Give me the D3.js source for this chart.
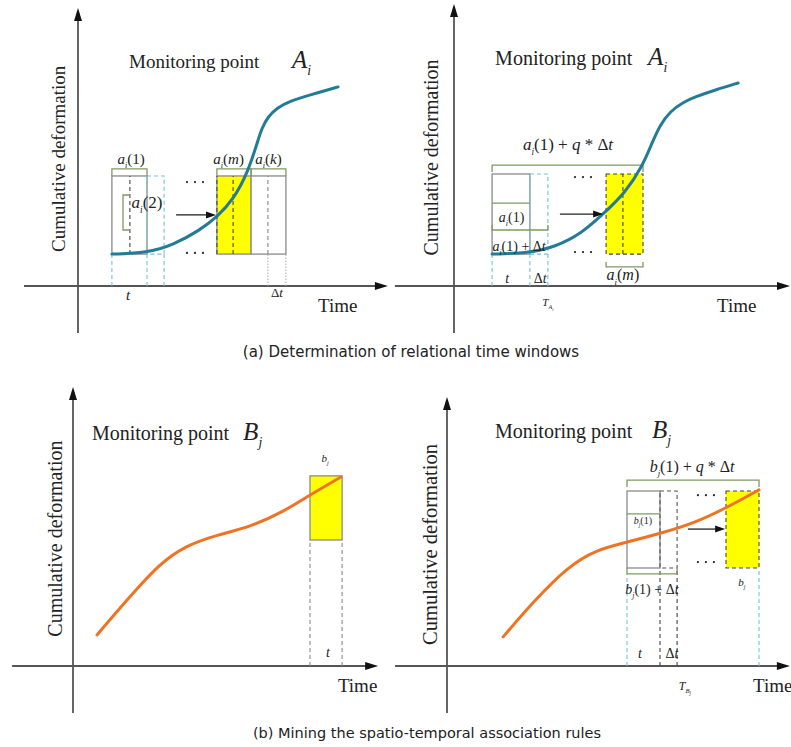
<!DOCTYPE html>
<html>
<head>
<meta charset="utf-8">
<script src="https://cdn.jsdelivr.net/npm/d3@7"></script>
<style>
  body { margin: 0; background: #fff; }
  text { fill: #222; }
</style>
</head>
<body>
<svg id="chart" width="791" height="747" font-family="'Liberation Serif', 'Times New Roman', 'DejaVu Serif', serif"></svg>
<script>
// schematic units: time 0..100 (x), cumulative deformation 0..100 (y)
// curves
const curveA1 = [[11.3,11.4],[23,11.8],[31.7,14.6],[40.7,20],[46.3,24.6],[51.7,30.7],[56.7,40.7],
  [60,52.1],[61.3,56.4],[63.3,60.4],[66.3,63.6],[70.7,66.1],[77.3,68.2],[86.7,71.1]];
const curveA2 = [[12.7,11.4],[24.7,11.8],[33.7,13.9],[42.7,18.9],[49.7,25.7],[57,33.2],[62.7,42.5],
  [66,51.1],[68.7,57.5],[72,62.3],[76.3,65.6],[80.3,67.5],[87,70],[94.7,72.5]];
const curveB1 = [[8,11.1],[18,23.6],[29,36.8],[38,43.2],[48,46.8],[59,49.6],[70,55],[79,61.1],[89.3,67.5]];
const curveB2 = [[18.7,10.4],[29.3,23.6],[40.3,35.4],[49.3,41.4],[60.3,44.3],[71.7,47.5],[82.7,51.1],
  [93.7,56.8],[104,62.9]];

// windows [t0, t1, d0, d1, kind]
const winA1 = [[11.3,23,11.4,39.3,"plain"],[23,28.7,11.4,39.3,"cyan"],[46.3,57.7,11.4,39.3,"yellow"],[57.7,69.3,11.4,39.3,"plain"]];
const winA2 = [[12.7,25.3,11.4,40,"plain"],[25.3,31.3,11.4,40,"cyan"],[50.7,63,11.4,40,"yellowDash"]];
const winB1 = [[79,89.7,45,67.9,"yellow"]];
const winB2 = [[60,71,35,62.5,"plain"],[71,76.7,35,62.5,"dash"],[93,104,35,62.5,"yellowDash"]];

// vertical lines [t, d0, d1, kind]
const vlA1 = [[17.3,11.4,39.3,"dash"],[46.3,11.4,39.3,"dash"],[51.7,11.4,39.3,"dash"],[63.3,11.4,39.3,"grayDash"],
  [11.3,0,11.4,"cyan"],[23,0,11.4,"cyan"],[28.7,0,11.4,"cyan"],[63.3,0,11.4,"dot"],[69.3,0,11.4,"dot"]];
const vlA2 = [[56.3,11.4,40,"dash"],[12.7,0,11.4,"cyan"],[25.3,0,11.4,"cyan"],[31.3,0,11.4,"cyan"]];
const vlB1 = [[79,0,45,"grayDash"],[89.7,0,45,"grayDash"]];
const vlB2 = [[60,0,32.9,"cyan"],[71,0,35,"dash"],[76.7,0,35,"dash"],[104,0,35,"cyan"]];

// brackets [t0, t1, d, tickTo]
const brA1 = [[11.3,23,41.8,39.3],[46.3,57.7,41.8,39.3],[57.7,69.3,41.8,39.3]];
const brA2 = [[12.7,63,43.2,40.7],[50.7,63,6.8,8.6],[12.7,31.3,20,21.8]];
const brB2 = [[60,104,66.4,63.9],[60,76.7,32.9,35]];
// plain green rules [t0, t1, d]
const ruleA2 = [[12.7,25.3,29.6]];
const ruleB2 = [[60,71,54.3]];
// side bracket for a_i(2): [t, d0, d1, tickTo]
const sideA1 = [[15,20,32.5,17.3]];

// arrows [t0, t1, d]
const arrA1 = [[32.7,46,25.4]];
const arrA2 = [[35.3,49.7,25.7]];
const arrB2 = [[80.3,92.7,48.9]];
// ellipsis marks [t, d]
const dotsA1 = [[39,37.1],[39,11.8]];
const dotsA2 = [[43,38.9],[43,12.1]];
const dotsB2 = [[86.3,61],[86.3,37.1]];

// labels [t, d, markup, size]  ({x} italic, _{x} subscript, __{x} second level)
const labA1 = [[17.7,43.6,"{a}_{i}(1)",15],[50.2,43.6,"{a}_{i}({m})",15],[63.5,43.6,"{a}_{i}({k})",15],
  [23,27.9,"{a}_{i}(2)",17],[16.7,-5,"{t}",15],[66.3,-3.9,"Δ{t}",13]];
const labA2 = [[38,48.6,"{a}_{i}(1) + {q} * Δ{t}",17],[19.2,22.9,"{a}_{i}(1)",14],[21.7,12.5,"{a}_{i}(1) + Δ{t}",14],
  [17.7,1.1,"{t}",14],[28.7,1.1,"Δ{t}",14],[56.3,2.1,"{a}_{i}({m})",16],[31.3,-7.1,"{T}_{A}__{i}",11]];
const labB1 = [[84,72.9,"{b}_{j}",11],[85,3.2,"{t}",14]];
const labB2 = [[81.7,69.3,"{b}_{j}(1) + {q} * Δ{t}",16],[65.3,50.7,"{b}_{j}(1)",10],[68.3,25.7,"{b}_{j}(1) + Δ{t}",14],
  [98.3,28.6,"{b}_{j}",11],[64.3,2.9,"{t}",14],[75,2.9,"Δ{t}",14],[79.3,-8.6,"{T}_{B}__{j}",12]];

const titles = ["Monitoring point", "Monitoring point", "Monitoring point", "Monitoring point"];
const pointNames = [["A","i"],["A","i"],["B","j"],["B","j"]];
const yTitle = "Cumulative deformation";
const xTitle = "Time";
const captions = ["(a) Determination of relational time windows", "(b) Mining the spatio-temporal association rules"];

const svg = d3.select("#chart");

const GREEN = "#7f9a62", GRAY = "#8a8a8a", CYAN = "#6fc3d6";

function rich(g, str, x, y, size, anchor) {
  const t = g.append("text").attr("x", x).attr("y", y).attr("font-size", size)
    .attr("text-anchor", anchor || "middle");
  const re = /__\{([^}]*)\}|_\{([^}]*)\}|\{([^}]*)\}|([^{_]+)/g;
  let m, cur = 0;
  while ((m = re.exec(str))) {
    let txt, lvl = 0, it = false;
    if (m[1] != null) { txt = m[1]; lvl = 2; it = true; }
    else if (m[2] != null) { txt = m[2]; lvl = 1; it = true; }
    else if (m[3] != null) { txt = m[3]; it = true; }
    else txt = m[4];
    const off = [0, 0.28, 0.45][lvl] * size;
    const fs = [1, 0.55, 0.42][lvl] * size;
    t.append("tspan").attr("dy", off - cur).attr("font-size", fs)
      .attr("font-style", it ? "italic" : null).text(txt);
    cur = off;
  }
  return t;
}

function arrowHead(g, x, y, dir, len, w) {
  const pts = dir === "up"
    ? [[x, y], [x - w / 2, y + len], [x + w / 2, y + len]]
    : [[x, y], [x - len, y - w / 2], [x - len, y + w / 2]];
  g.append("path").attr("d", d3.line()(pts) + "Z").attr("fill", "#111");
}

const panels = [
  { o: [78, 286], xr: [-18, 103.3], yr: [-16.8, 99.3], curve: curveA1, color: "#237b96",
    win: winA1, vl: vlA1, br: brA1, rule: [], side: sideA1, arr: arrA1, dots: dotsA1, lab: labA1,
    title: [17, 77.9, 71.3, 19], ylab: [-4.3, 45.4, 19], time: [80, -9.3] },
  { o: [454, 286], xr: [-19.7, 112], yr: [-16.8, 100.7], curve: curveA2, color: "#237b96",
    win: winA2, vl: vlA2, br: brA2, rule: ruleA2, side: [], arr: arrA2, dots: dotsA2, lab: labA2,
    title: [13.7, 78.9, 64.7, 20], ylab: [-5.3, 45.9, 20], time: [87.7, -9.3] },
  { o: [73, 666], xr: [-20.3, 101.7], yr: [-16.8, 99.6], curve: curveB1, color: "#ee7424",
    win: winB1, vl: vlB1, br: [], rule: [], side: [], arr: [], dots: [], lab: labB1,
    title: [6.3, 80.7, 56.7, 20], ylab: [-3.7, 45.5, 20], time: [88.3, -9.3] },
  { o: [447, 666], xr: [-17.3, 114.3], yr: [-16.8, 96.1], curve: curveB2, color: "#ee7424",
    win: winB2, vl: vlB2, br: brB2, rule: ruleB2, side: [], arr: arrB2, dots: dotsB2, lab: labB2,
    title: [16, 81.4, 68.3, 20], ylab: [-3.3, 43.4, 20.5], time: [102, -9.3] }
];

panels.forEach((p, pi) => {
  const x = d3.scaleLinear().domain([0, 100]).range([p.o[0], p.o[0] + 300]);
  const y = d3.scaleLinear().domain([0, 100]).range([p.o[1], p.o[1] - 280]);
  const g = svg.append("g");

  // axes
  g.append("line").attr("x1", x(p.xr[0])).attr("x2", x(p.xr[1]) - 8)
    .attr("y1", y(0)).attr("y2", y(0)).attr("stroke", "#555").attr("stroke-width", 1.8);
  g.append("line").attr("x1", x(0)).attr("x2", x(0))
    .attr("y1", y(p.yr[0])).attr("y2", y(p.yr[1]) + 8).attr("stroke", "#555").attr("stroke-width", 1.8);
  arrowHead(g, x(p.xr[1]), y(0), "right", 13, 8);
  arrowHead(g, x(0), y(p.yr[1]), "up", 13, 8);

  // windows
  p.win.forEach(([t0, t1, d0, d1, kind]) => {
    const r = g.append("rect").attr("x", x(t0)).attr("y", y(d1))
      .attr("width", x(t1) - x(t0)).attr("height", y(d0) - y(d1));
    if (kind === "plain") r.attr("fill", "#fff").attr("stroke", GRAY).attr("stroke-width", 1.3);
    if (kind === "cyan") r.attr("fill", "none").attr("stroke", CYAN).attr("stroke-width", 1.1).attr("stroke-dasharray", "4,3");
    if (kind === "dash") r.attr("fill", "none").attr("stroke", "#555").attr("stroke-width", 1.1).attr("stroke-dasharray", "4,3");
    if (kind === "yellow") r.attr("fill", "#ffff00").attr("stroke", GRAY).attr("stroke-width", 1.3);
    if (kind === "yellowDash") r.attr("fill", "#ffff00").attr("stroke", "#444").attr("stroke-width", 1.1).attr("stroke-dasharray", "4,3");
  });

  // vertical guide lines
  p.vl.forEach(([t, d0, d1, kind]) => {
    const l = g.append("line").attr("x1", x(t)).attr("x2", x(t)).attr("y1", y(d0)).attr("y2", y(d1));
    if (kind === "dash") l.attr("stroke", "#444").attr("stroke-width", 1.1).attr("stroke-dasharray", "4,3");
    if (kind === "grayDash") l.attr("stroke", "#888").attr("stroke-width", 1.1).attr("stroke-dasharray", "4,3");
    if (kind === "cyan") l.attr("stroke", CYAN).attr("stroke-width", 1.1).attr("stroke-dasharray", "4,3");
    if (kind === "dot") l.attr("stroke", "#aaa").attr("stroke-width", 1).attr("stroke-dasharray", "1.5,1.5");
  });

  // green brackets
  p.br.forEach(([t0, t1, d, dt]) => {
    g.append("path").attr("fill", "none").attr("stroke", GREEN).attr("stroke-width", 1.3)
      .attr("d", d3.line()([[x(t0), y(dt)], [x(t0), y(d)], [x(t1), y(d)], [x(t1), y(dt)]]));
  });
  p.rule.forEach(([t0, t1, d]) => {
    g.append("line").attr("x1", x(t0)).attr("x2", x(t1)).attr("y1", y(d)).attr("y2", y(d))
      .attr("stroke", GREEN).attr("stroke-width", 1.3);
  });
  p.side.forEach(([t, d0, d1, tt]) => {
    g.append("path").attr("fill", "none").attr("stroke", GREEN).attr("stroke-width", 1.3)
      .attr("d", d3.line()([[x(tt), y(d1)], [x(t), y(d1)], [x(t), y(d0)], [x(tt), y(d0)]]));
  });

  // deformation curve
  g.append("path").datum(p.curve).attr("fill", "none").attr("stroke", p.color)
    .attr("stroke-width", 3).attr("stroke-linecap", "round")
    .attr("d", d3.line().x(d => x(d[0])).y(d => y(d[1])).curve(d3.curveBasis));

  // arrows
  p.arr.forEach(([t0, t1, d]) => {
    g.append("line").attr("x1", x(t0)).attr("x2", x(t1) - 8).attr("y1", y(d)).attr("y2", y(d))
      .attr("stroke", "#222").attr("stroke-width", 1.3);
    arrowHead(g, x(t1), y(d), "right", 10, 7);
  });

  // ellipsis
  p.dots.forEach(([t, d]) => {
    [-8, 0, 8].forEach(k => g.append("circle").attr("cx", x(t) + k).attr("cy", y(d)).attr("r", 1.1).attr("fill", "#222"));
  });

  // labels
  p.lab.forEach(([t, d, s, fs]) => rich(g, s, x(t), y(d), fs, "middle"));

  // titles
  g.append("text").attr("x", x(p.title[0])).attr("y", y(p.title[1])).attr("font-size", p.title[3]).text(titles[pi]);
  rich(g, "{" + pointNames[pi][0] + "}_{" + pointNames[pi][1] + "}", x(p.title[2]), y(p.title[1]), 25, "start");
  g.append("text").attr("transform", `translate(${x(p.ylab[0])},${y(p.ylab[1])}) rotate(-90)`)
    .attr("text-anchor", "middle").attr("font-size", p.ylab[2]).text(yTitle);
  g.append("text").attr("x", x(p.time[0])).attr("y", y(p.time[1])).attr("font-size", 19).text(xTitle);
});

svg.append("text").attr("x", 411).attr("y", 357).attr("text-anchor", "middle")
  .attr("font-family", "'DejaVu Sans', sans-serif").attr("fill", "#333")
  .attr("font-size", 15).text(captions[0]);
svg.append("text").attr("x", 427).attr("y", 738).attr("text-anchor", "middle")
  .attr("font-family", "'DejaVu Sans', sans-serif").attr("fill", "#333")
  .attr("font-size", 14.5).text(captions[1]);
</script>
</body>
</html>
